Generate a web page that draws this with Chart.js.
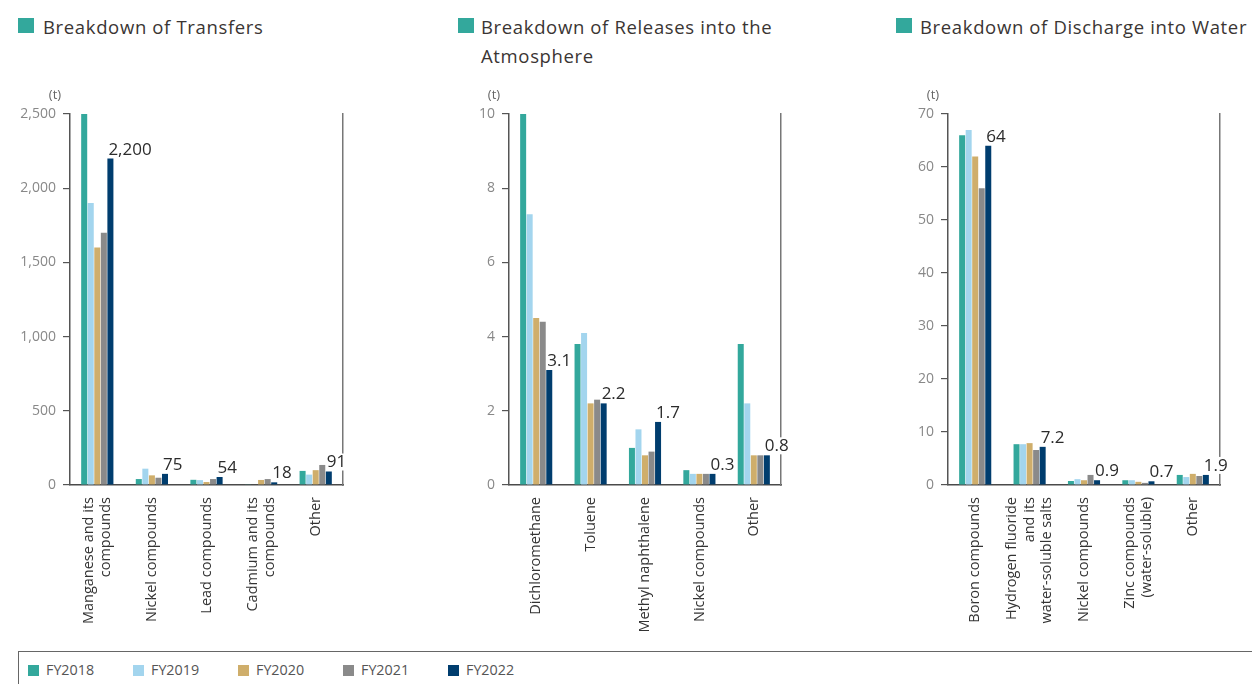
<!DOCTYPE html>
<html><head><meta charset="utf-8">
<script src="https://cdn.jsdelivr.net/npm/chart.js@4.4.0/dist/chart.umd.min.js"></script>
<style>
body{margin:0;background:#fff;width:1252px;height:684px;overflow:hidden;position:relative;font-family:"Open Sans",sans-serif;}
.title{position:absolute;top:12px;font-size:18.5px;letter-spacing:0.65px;color:#3a3533;line-height:29px;white-space:nowrap;}
.sq{position:absolute;top:18px;width:16px;height:15px;background:#33a89c;}
canvas{position:absolute;top:80px;}
#legend{position:absolute;left:18px;top:651px;width:1250px;height:50px;border-top:1px solid #666;border-left:1px solid #666;}
.li{position:absolute;top:9px;font-size:14.3px;color:#555;line-height:18px;}
.li span{position:absolute;left:-18px;top:4px;width:11px;height:11px;}
</style>
</head><body>
<div class="sq" style="left:18px"></div><div class="title" style="left:43px">Breakdown of Transfers</div>
<div class="sq" style="left:458px"></div><div class="title" style="left:481px">Breakdown of Releases into the<br>Atmosphere</div>
<div class="sq" style="left:896px"></div><div class="title" style="left:920px">Breakdown of Discharge into Water</div>
<canvas id="c1" width="380" height="560" style="left:0px"></canvas>
<canvas id="c2" width="380" height="560" style="left:440px"></canvas>
<canvas id="c3" width="372" height="560" style="left:880px"></canvas>
<div id="legend"></div>
<script>
const years = ['FY2018','FY2019','FY2020','FY2021','FY2022'];
const yearColors = ['#33a89c','#a3d5ee','#cfae6b','#8a8a8a','#003d6e'];

const transferCats = [['Manganese and its','compounds'],'Nickel compounds','Lead compounds',['Cadmium and its','compounds'],'Other'];
const transfers2018 = [2500, 40, 35, 5, 95];
const transfers2019 = [1900, 110, 33, 4, 70];
const transfers2020 = [1600, 65, 20, 34, 100];
const transfers2021 = [1700, 49, 40, 40, 135];
const transfers2022 = [2200, 75, 54, 18, 91];

const releaseCats = ['Dichloromethane','Toluene','Methyl naphthalene','Nickel compounds','Other'];
const releases2018 = [10, 3.8, 1.0, 0.4, 3.8];
const releases2019 = [7.3, 4.1, 1.5, 0.3, 2.2];
const releases2020 = [4.5, 2.2, 0.8, 0.3, 0.8];
const releases2021 = [4.4, 2.3, 0.9, 0.3, 0.8];
const releases2022 = [3.1, 2.2, 1.7, 0.3, 0.8];

const dischargeCats = ['Boron compounds',['Hydrogen fluoride','and its','water-soluble salts'],'Nickel compounds',['Zinc compounds','(water-soluble)'],'Other'];
const discharge2018 = [66, 7.7, 0.75, 0.9, 1.9];
const discharge2019 = [67, 7.7, 1.1, 0.9, 1.5];
const discharge2020 = [62, 7.9, 0.9, 0.6, 2.1];
const discharge2021 = [56, 6.6, 1.9, 0.4, 1.7];
const discharge2022 = [64, 7.2, 0.9, 0.7, 1.9];

const FONT = '"Open Sans", sans-serif';

const valuePlugin = {
  id: 'vals',
  beforeDraw(chart) {
    // centre multi-line rotated category labels on their tick
    const s = chart.scales.x;
    const items = s.getLabelItems(chart.chartArea);
    if (!items._centred) {
      items.forEach(it => {
        const n = Array.isArray(it.label) ? it.label.length : 1;
        it.options.translation[0] -= (n - 1) * it.font.lineHeight / 2;
      });
      items._centred = true;
    }
  },
  afterDatasetsDraw(chart, args, opts) {
    const ctx = chart.ctx;
    const last = chart.data.datasets.length - 1;
    const meta = chart.getDatasetMeta(last);
    ctx.save();
    ctx.font = '17px ' + FONT;
    ctx.textAlign = 'left';
    ctx.textBaseline = 'alphabetic';
    meta.data.forEach((bar, i) => {
      const v = chart.data.datasets[last].data[i];
      const txt = opts.comma ? v.toLocaleString('en-US') : String(v);
      const tx = bar.x - bar.width / 2 + 1, ty = bar.y - 4;
      const w = ctx.measureText(txt).width;
      ctx.fillStyle = '#fff';
      ctx.fillRect(tx + 1, ty - 14, w, 17);
      ctx.fillStyle = '#2b2b2b';
      ctx.fillText(txt, tx, ty);
    });
    ctx.font = '13px ' + FONT;
    ctx.fillStyle = '#666';
    ctx.textAlign = 'center';
    ctx.textBaseline = 'middle';
    ctx.fillText('(t)', chart.chartArea.left - 15, chart.chartArea.top - 19);
    ctx.restore();
  }
};

function makeChart(id, cats, series, max, step, comma, leftW, rightW) {
  const datasets = series.map((d, i) => ({
    label: years[i], data: d, backgroundColor: yearColors[i], borderWidth: 0,
    categoryPercentage: 0.6, barPercentage: 0.92
  }));
  return new Chart(document.getElementById(id), {
    type: 'bar',
    data: { labels: cats, datasets },
    plugins: [valuePlugin],
    options: {
      responsive: false, animation: false, devicePixelRatio: 1,
      layout: { padding: { top: 34, left: 0, right: 0, bottom: 0 } },
      plugins: { legend: { display: false }, tooltip: { enabled: false }, vals: { comma } },
      scales: {
        x: {
          grid: { display: false, drawTicks: false },
          border: { display: true, color: '#4a4a4a', width: 1.5 },
          ticks: { color: '#333', font: { family: FONT, size: 14.5 }, padding: 12, minRotation: 90, maxRotation: 90, autoSkip: false },
          afterFit: s => { s.height = 155; }
        },
        y: {
          min: 0, max: max,
          ticks: { stepSize: step, color: '#888', font: { family: FONT, size: 14 }, padding: 7 },
          grid: { drawOnChartArea: false, tickLength: 7, color: '#555', lineWidth: 1.2 },
          border: { display: true, color: '#555', width: 1.5 },
          afterFit: s => { s.width = leftW; }
        },
        y2: {
          position: 'right', display: true,
          ticks: { display: false },
          grid: { display: false, drawTicks: false },
          border: { display: true, color: '#777', width: 1.5 },
          afterFit: s => { s.width = rightW; }
        }
      }
    }
  });
}

makeChart('c1', transferCats, [transfers2018, transfers2019, transfers2020, transfers2021, transfers2022], 2500, 500, true, 70, 37);
makeChart('c2', releaseCats, [releases2018, releases2019, releases2020, releases2021, releases2022], 10, 2, false, 69, 39);
makeChart('c3', dischargeCats, [discharge2018, discharge2019, discharge2020, discharge2021, discharge2022], 70, 10, false, 68, 32);

const legend = document.getElementById('legend');
years.forEach((y, i) => {
  const d = document.createElement('div');
  d.className = 'li';
  d.style.left = (27 + 105 * i) + 'px';
  d.innerHTML = '<span style="background:' + yearColors[i] + '"></span>' + y;
  legend.appendChild(d);
});
</script>
</body></html>
